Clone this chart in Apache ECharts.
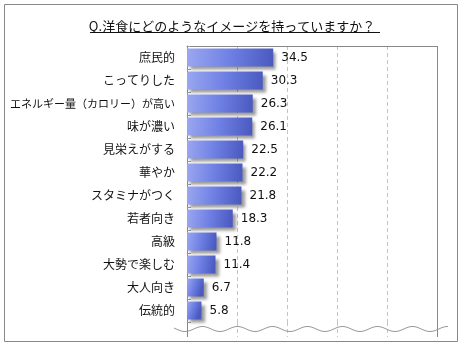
<!DOCTYPE html>
<html><head><meta charset="utf-8">
<script src="https://cdn.jsdelivr.net/npm/echarts@6/dist/echarts.min.js"></script>
<style>html,body{margin:0;padding:0;background:#fff}#c{width:464px;height:345px}</style>
</head><body><div id="c"></div>
<script>
const titleText = 'Q.洋食にどのようなイメージを持っていますか？';
const categories = ['庶民的','こってりした','エネルギー量（カロリー）が高い','味が濃い','見栄えがする','華やか','スタミナがつく','若者向き','高級','大勢で楽しむ','大人向き','伝統的'];
const values = [34.5,30.3,26.3,26.1,22.5,22.2,21.8,18.3,11.8,11.4,6.7,5.8];
const xTicks = [0,20,40,60,80,100];

const chart = echarts.init(document.getElementById('c'), null, {renderer:'canvas'});
const jp = '"Noto Sans CJK JP", "Noto Sans", sans-serif';
chart.setOption({
  animation:false,
  backgroundColor:'#fff',
  title:{text:titleText, left:'center', top:15, itemGap:0,
    textStyle:{fontFamily:jp, fontSize:13, fontWeight:'normal', color:'#111'}},
  grid:{left:187, right:27, top:46, bottom:23, containLabel:false},
  xAxis:{type:'value', position:'top', min:xTicks[0], max:xTicks[xTicks.length-1], interval:20,
    axisLine:{show:true, lineStyle:{color:'#888', width:1}},
    axisTick:{show:false}, axisLabel:{show:false},
    splitLine:{show:true, lineStyle:{color:'#c4c4c4', type:[4,3], width:1}}},
  yAxis:{type:'category', data:categories, inverse:true,
    axisLine:{show:true, lineStyle:{color:'#888'}},
    axisTick:{show:true, inside:true, length:4, lineStyle:{color:'#999'}},
    axisLabel:{margin:12, fontFamily:jp, fontSize:12, color:'#111',
      formatter:function(v){ return v.length>10 ? '{s|'+v+'}' : v; },
      rich:{s:{fontFamily:jp, fontSize:11, color:'#111'}}}},
  series:[{type:'bar', data:values, barWidth:18,
    itemStyle:{
      color:new echarts.graphic.LinearGradient(0,0,1,0.3,[{offset:0,color:'#9ba7f0'},{offset:0.5,color:'#6f80e4'},{offset:1,color:'#4a5ac0'}]),
      shadowColor:'rgba(0,0,0,0.4)', shadowBlur:3, shadowOffsetX:3, shadowOffsetY:3},
    label:{show:true, position:'right', distance:8, color:'#111', fontFamily:'"DejaVu Sans", Verdana, sans-serif', fontSize:12,
      formatter:function(p){ return p.value.toFixed(1); }}}]
});

// decorative: frame, title underline, axis break extension and wave
const plotTop = 46, yBreak = 322, yEnd = 337;
const gfx = [];
gfx.push({type:'rect', shape:{x:4.5, y:4.5, width:453, height:337}, style:{fill:'none', stroke:'#888', lineWidth:1}, z:-1});
gfx.push({type:'line', shape:{x1:90, y1:32.5, x2:380, y2:32.5}, style:{stroke:'#111', lineWidth:1}});
xTicks.forEach(function(v){
  const x = Math.round(chart.convertToPixel({xAxisIndex:0}, v)) + 0.5;
  if (v === xTicks[0]) {
    gfx.push({type:'line', shape:{x1:x, y1:yBreak, x2:x, y2:yEnd}, style:{stroke:'#888', lineWidth:1}});
  } else if (v === xTicks[xTicks.length-1]) {
    gfx.push({type:'line', shape:{x1:x, y1:plotTop, x2:x, y2:yEnd}, style:{stroke:'#888', lineWidth:1}});
  } else {
    gfx.push({type:'line', shape:{x1:x, y1:yBreak, x2:x, y2:yEnd}, style:{stroke:'#c4c4c4', lineWidth:1, lineDash:[4,3]}});
  }
});
const wave = [];
for (let x = 174; x <= 448; x += 1) {
  wave.push([x, 329 + 2.5*Math.cos(2*Math.PI*(x-185)/35)]);
}
gfx.push({type:'polyline', shape:{points:wave, smooth:false}, style:{stroke:'#999', fill:'none', lineWidth:1}, z:10});
chart.setOption({graphic:gfx});
</script></body></html>
